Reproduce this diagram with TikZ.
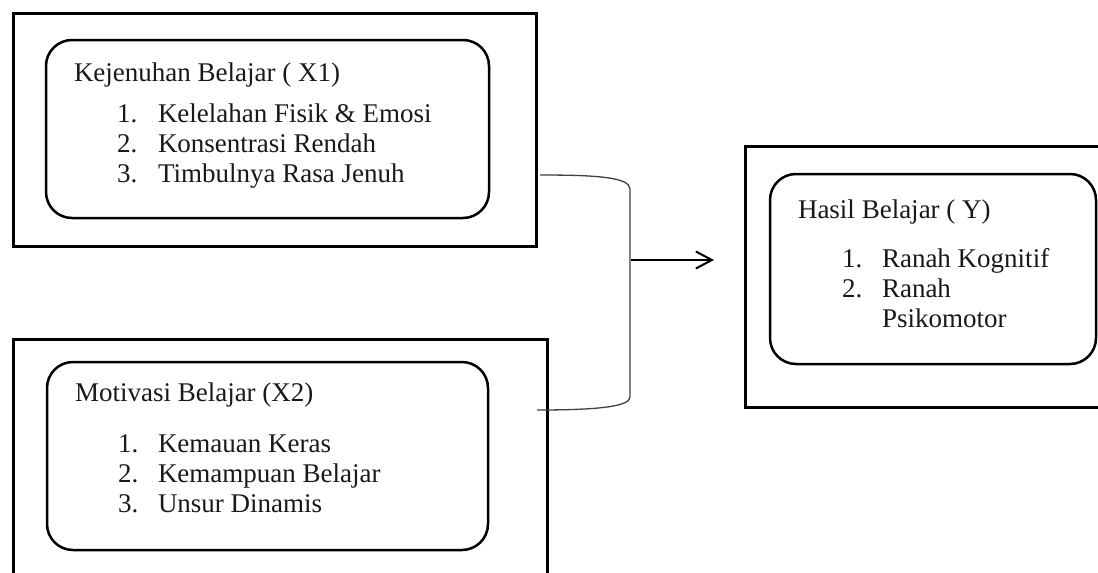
\documentclass[tikz,border=0pt]{standalone}
\usepackage{fontspec}
\setmainfont{Liberation Serif}
\usetikzlibrary{arrows.meta}
\begin{document}
\begin{tikzpicture}[x=1pt,y=-1pt,
  outerbox/.style={draw=black,line width=3pt,rectangle,inner sep=0pt,outer sep=0pt},
  innerbox/.style={draw=black,line width=2.5pt,rectangle,rounded corners=26pt,inner sep=0pt,outer sep=0pt},
  txt/.style={anchor=base west,inner sep=0pt,outer sep=0pt,font=\fontsize{27}{30}\selectfont,text=black!90},
  bracket/.style={draw=black!75,line width=1.3pt},
  arrowline/.style={draw=black,line width=2pt,-{Straight Barb[length=16pt,width=17pt,line width=2pt]}}]
\useasboundingbox (0,0) rectangle (1098,573);
\clip (0,0) rectangle (1098,573);
\fill[white] (0,0) rectangle (1098,573);
% outer boxes
\node[outerbox,minimum width=523pt,minimum height=233pt] (o1) at (274.5,129.5) {};
\node[outerbox,minimum width=534pt,minimum height=261pt] (o2) at (280,469.5) {};
\node[outerbox,minimum width=380pt,minimum height=261pt] (o3) at (935,276.5) {};
% inner rounded boxes
\node[innerbox,minimum width=443pt,minimum height=178pt] (i1) at (267.5,129) {};
\node[innerbox,minimum width=441pt,minimum height=188pt] (i2) at (267.5,456) {};
\node[innerbox,minimum width=326pt,minimum height=190pt] (i3) at (933,269) {};
% box 1 text
\node[txt] (t1) at (74,81) {Kejenuhan Belajar ( X1)};
\node[txt] (n11) at (117,122) {1.};
\node[txt] (t11) at (158,122) {Kelelahan Fisik \& Emosi};
\node[txt] (n12) at (117,152) {2.};
\node[txt] (t12) at (158,152) {Konsentrasi Rendah};
\node[txt] (n13) at (117,182) {3.};
\node[txt] (t13) at (158,182) {Timbulnya Rasa Jenuh};
% box 2 text
\node[txt] (t2) at (75,401) {Motivasi Belajar (X2)};
\node[txt] (n21) at (118,452) {1.};
\node[txt] (t21) at (158,452) {Kemauan Keras};
\node[txt] (n22) at (118,482) {2.};
\node[txt] (t22) at (158,482) {Kemampuan Belajar};
\node[txt] (n23) at (118,512) {3.};
\node[txt] (t23) at (158,512) {Unsur Dinamis};
% box 3 text
\node[txt] (t3) at (798,218) {Hasil Belajar ( Y)};
\node[txt] (n31) at (842,267) {1.};
\node[txt] (t31) at (882,267) {Ranah Kognitif};
\node[txt] (n32) at (842,297) {2.};
\node[txt] (t32) at (882,297) {Ranah};
\node[txt] (t33) at (882,327) {Psikomotor};
% connector
\coordinate (ctop) at (540,175);
\coordinate (cbot) at (537,410);
\coordinate (cmid) at (631,260);
\coordinate (ctip) at (714,260);
\draw[bracket] (ctop) .. controls (595,175) and (630,177) .. (630,189) -- (630,397) .. controls (630,407) and (595,410) .. (cbot);
\draw[arrowline] (cmid) -- (ctip);
\end{tikzpicture}
\end{document}
